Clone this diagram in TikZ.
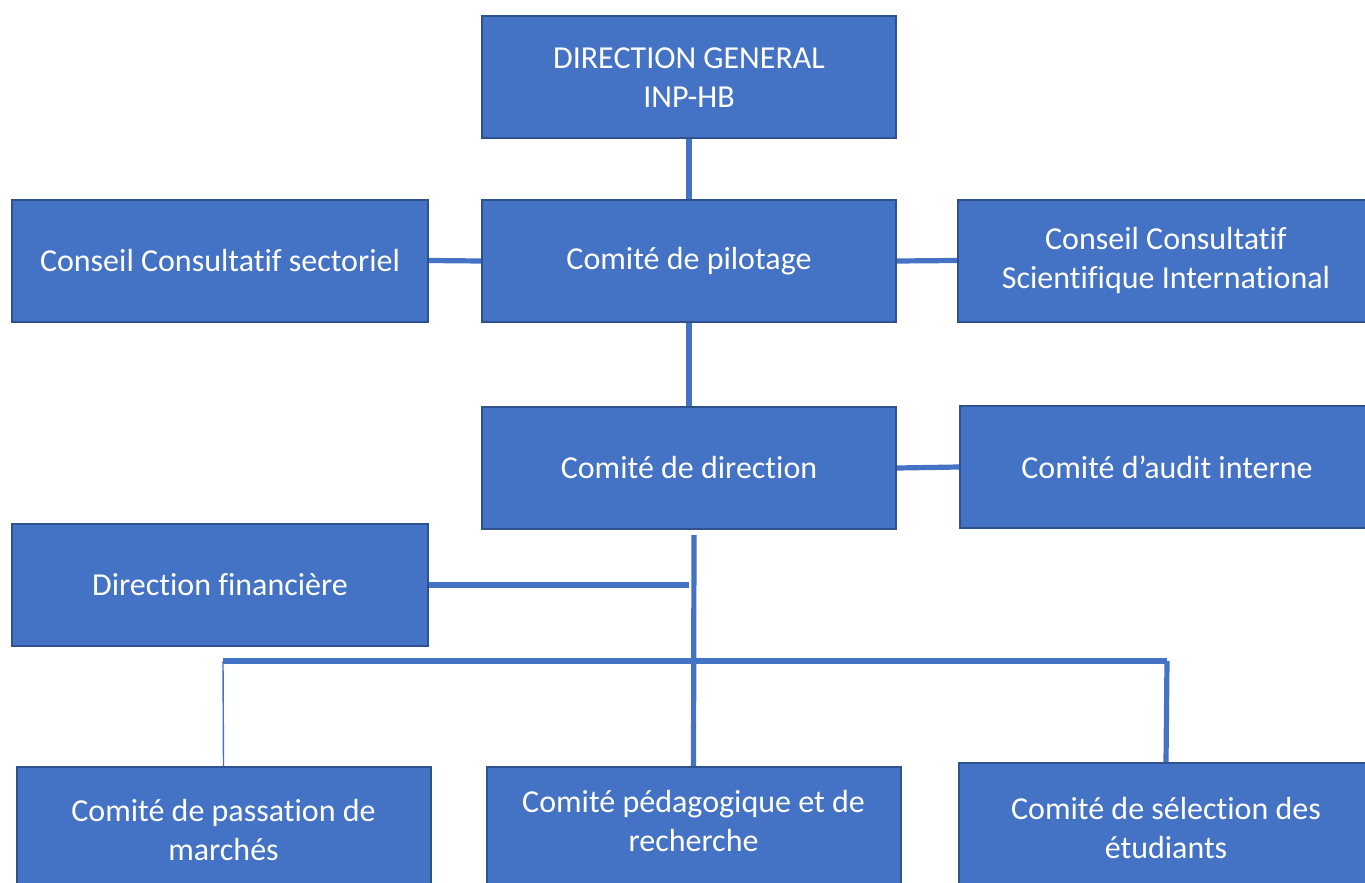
\documentclass[tikz,border=0pt]{standalone}
\usepackage{fontspec}
\setmainfont{Carlito}[Ligatures=CommonOff]
\usepackage{tikz}
\usetikzlibrary{positioning}
\definecolor{boxfill}{HTML}{4472C4}
\definecolor{boxline}{HTML}{2F528F}
\tikzset{
  wire/.style={draw=boxfill, line width=2.6pt},
  thinwire/.style={draw=boxfill, line width=0.7pt},
  box/.style={draw=boxline, fill=boxfill, line width=1pt, text=white, align=center,
    minimum width=207pt, minimum height=61pt, inner sep=2pt,
    font=\fontsize{16}{19.5}\selectfont}
}
\begin{document}
\begin{tikzpicture}[x=0.5pt,y=-0.5pt]
  \useasboundingbox (0,0) rectangle (1365,883);
  % top levels
  \node[box] (dg) at (689,77.5) {DIRECTION GENERAL\\INP-HB};
  \node[box] (pil) at (689,261) {Comité de pilotage};
  \node[box, minimum width=208pt] (ccs) at (220,260.5) {Conseil Consultatif sectoriel};
  \node[box, minimum width=208pt] (ccsi) at (1166,260.5) {Conseil Consultatif\\Scientifique International};
  \node[box] (dir) at (689,468) {Comité de direction};
  \node[box] (audit) at (1167,467) {Comité d’audit interne};
  \node[box, minimum width=208pt] (fin) at (220,585) {Direction financière};
  % bottom row
  \node[box, minimum height=63pt] (pass) at (223.5,830) {Comité de passation de\\marchés};
  \node[box, minimum height=63pt, text depth=9pt] (ped) at (693.5,830) {Comité pédagogique et de\\recherche};
  \node[box, minimum height=65pt] (sel) at (1166,828) {Comité de sélection des\\étudiants};
  % free ends
  \coordinate (trunk) at (694,535);
  \coordinate (finend) at (689,585);
  \coordinate (busl) at (223,661);
  \coordinate (busr) at (1167,661);
  % connectors
  \draw[wire] (dg.south) -- (pil.north);
  \draw[wire] (ccs.east) -- (pil.west);
  \draw[wire] (pil.east) -- (ccsi.west);
  \draw[wire] (pil.south) -- (dir.north);
  \draw[wire] (dir.east) -- (audit.west);
  \draw[wire] (trunk) -- (ped.north);
  \draw[wire] (fin.east) -- (finend);
  \draw[wire] (busl) -- (busr);
  \draw[thinwire] (busl) -- (pass.north);
  \draw[wire] (busr) -- (sel.north);
\end{tikzpicture}
\end{document}
